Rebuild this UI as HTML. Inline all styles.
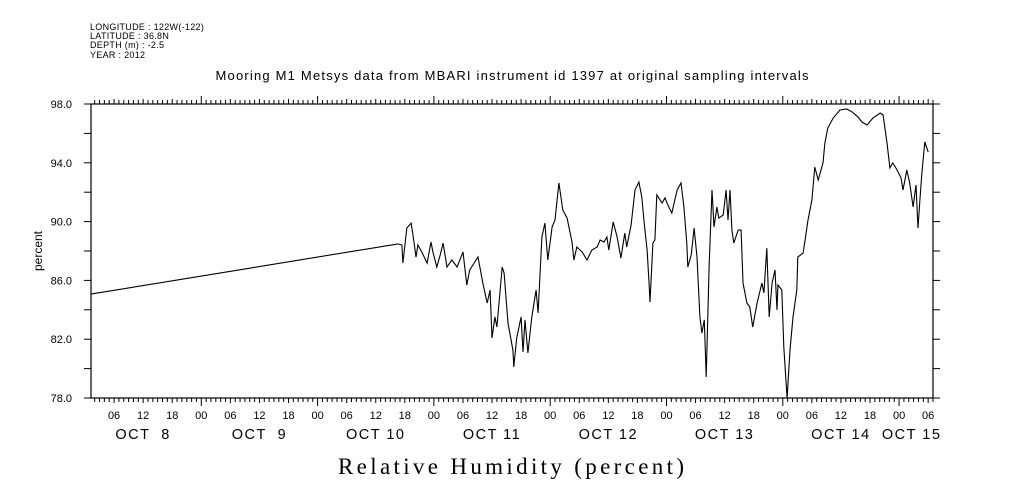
<!DOCTYPE html>
<html><head><meta charset="utf-8"><style>
body{margin:0;background:#fff;width:1009px;height:504px;overflow:hidden}
svg{display:block}
text{font-family:"Liberation Sans",sans-serif;fill:#000;white-space:pre}
</style></head><body>
<svg id="chart" width="1009" height="504" viewBox="0 0 1009 504">
<g>
<text x="90" y="30" style="font-size:9px;letter-spacing:0.3px">LONGITUDE : 122W(-122)</text>
<text x="90" y="39" style="font-size:9px;letter-spacing:0.3px">LATITUDE : 36.8N</text>
<text x="90" y="48" style="font-size:9px;letter-spacing:0.3px">DEPTH (m) : -2.5</text>
<text x="90" y="58" style="font-size:9px;letter-spacing:0.3px">YEAR : 2012</text>
</g>
<text x="512" y="80" text-anchor="middle" textLength="593" lengthAdjust="spacing" style="font-size:13px">Mooring M1 Metsys data from MBARI instrument id 1397 at original sampling intervals</text>
<text x="511" y="474" text-anchor="middle" textLength="346" lengthAdjust="spacing" style="font-family:'Liberation Serif',serif;font-size:23px">Relative Humidity (percent)</text>
<text x="42" y="251" text-anchor="middle" transform="rotate(-90 42 251)" style="font-size:12px">percent</text>
<rect x="91" y="104" width="842" height="294" fill="none" stroke="#000" stroke-width="1.2"/>
<g id="axes"></g>
<path id="series" fill="none" stroke="#000" stroke-width="1.1"/>
</svg>
<script>
// hours since Oct 8 2012 00:00
const hours=[1.2,64.6,65.4,65.6,66.4,67.3,67.7,68.3,68.7,69.5,70.6,71.4,71.8,72.6,73.3,73.9,74.7,75.7,76.8,78.0,78.8,79.4,81.1,82.1,83.0,83.6,84.0,84.6,85.0,86.1,86.5,87.3,88.3,88.5,89.1,90.0,90.4,90.8,91.4,92.2,93.1,93.5,94.3,94.9,95.5,96.4,97.0,97.8,98.6,99.5,100.5,100.9,101.5,102.6,103.6,104.6,105.7,106.3,107.1,107.7,108.1,109.0,109.8,110.6,111.4,111.8,112.7,113.5,114.3,114.9,115.4,116.0,116.4,116.6,117.2,117.6,118.0,119.1,119.7,120.3,121.1,122.2,123.0,123.6,124.2,124.4,125.1,125.7,126.3,126.9,127.3,127.8,128.2,128.4,128.8,129.4,129.8,130.4,130.8,131.7,132.3,132.7,133.1,133.5,133.9,134.8,135.4,135.8,136.6,137.2,137.8,138.7,139.7,140.1,140.7,141.2,141.8,142.4,142.8,143.0,143.8,144.2,144.9,145.5,146.1,146.9,147.1,148.2,148.6,149.2,150.0,150.6,151.3,152.3,152.7,153.3,154.4,155.8,157.2,158.3,159.5,160.3,161.4,162.6,164.1,164.7,165.5,166.1,166.7,167.6,168.4,168.8,169.6,170.2,170.9,171.5,171.9,172.3,172.7,173.3,174.0];
const humidity=[85.07,88.48,88.41,87.18,89.56,89.90,89.09,87.59,88.41,87.93,87.18,88.61,87.93,86.91,87.73,88.54,86.91,87.39,86.91,87.93,85.69,86.71,87.59,85.82,84.46,85.35,82.08,83.51,82.83,86.91,86.50,83.10,81.26,80.11,82.08,83.51,81.13,83.31,81.06,83.51,85.35,83.78,88.95,89.90,87.39,89.63,90.11,92.63,90.79,90.24,88.61,87.39,88.27,87.93,87.39,88.07,88.27,88.75,88.61,88.95,88.07,89.97,88.95,87.52,89.22,88.27,89.77,92.15,92.69,91.67,89.90,88.07,85.89,84.53,88.54,88.75,91.81,91.27,91.61,91.13,90.58,92.15,92.63,91.0,88.54,86.91,87.73,89.56,87.59,83.51,82.42,83.31,79.43,81.95,86.91,92.15,89.63,90.99,90.24,90.45,92.15,90.11,92.15,89.43,88.54,89.43,89.43,85.82,84.46,84.19,82.83,84.46,85.82,85.14,88.20,83.51,85.82,86.71,83.99,85.69,85.35,81.47,78.0,81.26,83.51,85.35,87.59,87.86,88.75,90.11,91.47,93.71,92.83,93.99,95.35,96.37,97.05,97.59,97.66,97.46,97.12,96.78,96.57,97.05,97.39,97.25,95.35,93.65,93.99,93.51,92.97,92.15,93.51,92.63,91.0,92.49,89.56,91.47,93.31,95.42,94.73];
const yTickValues=[78,82,86,90,94,98];
const dayLabels=["OCT  8","OCT  9","OCT 10","OCT 11","OCT 12","OCT 13","OCT 14","OCT 15"];
const hourLabels=["00","06","12","18"];

const X0=91,X1=933,Y0=104,Y1=398,HMIN=1.24,HMAX=175.0,VMIN=78,VMAX=98;
const xs=h=>X0+(h-HMIN)/(HMAX-HMIN)*(X1-X0);
const ys=v=>Y1-(v-VMIN)/(VMAX-VMIN)*(Y1-Y0);
const NS="http://www.w3.org/2000/svg";
const ax=document.getElementById('axes');
function ln(x1,y1,x2,y2,name){const l=document.createElementNS(NS,'line');
l.setAttribute('x1',x1);l.setAttribute('y1',y1);l.setAttribute('x2',x2);l.setAttribute('y2',y2);l.setAttribute('stroke','#000');l.setAttribute('stroke-width','1');


ax.appendChild(l);}
function tx(x,y,s,anchor,size,name,ls){const t=document.createElementNS(NS,'text');
t.setAttribute('x',x);t.setAttribute('y',y);t.setAttribute('text-anchor',anchor);t.style.fontSize=size+'px';if(ls)t.style.letterSpacing=ls;t.textContent=s;


ax.appendChild(t);}
for(let v=VMIN;v<=VMAX;v+=2){const y=ys(v);
 ln(X0-7,y,X0,y,'y-tick');ln(X1,y,X1+7,y,'y-tick-right');}
yTickValues.forEach(v=>tx(72,ys(v)+4,v.toFixed(1),'end',11,'y-tick-label'));
for(let h=Math.ceil(HMIN);h<=HMAX;h++){const x=xs(h);
 const len=h%24===0?8:(h%6===0?5:4);
 ln(x,Y1,x,Y1+len,'x-tick');ln(x,Y0-len,x,Y0,'x-tick-top');
 if(h%6===0) tx(x,419,hourLabels[(h%24)/6],'middle',11,'x-hour-label');}
dayLabels.forEach((d,i)=>{let h=i*24+12;if(i===7)h=170.6;tx(xs(h),439,d,'middle',14.5,'x-day-label','1.5px');});
let dstr='';hours.forEach((h,i)=>{dstr+=(i?'L':'M')+xs(h).toFixed(1)+','+ys(humidity[i]).toFixed(1);});
document.getElementById('series').setAttribute('d',dstr);
</script>
</body></html>
